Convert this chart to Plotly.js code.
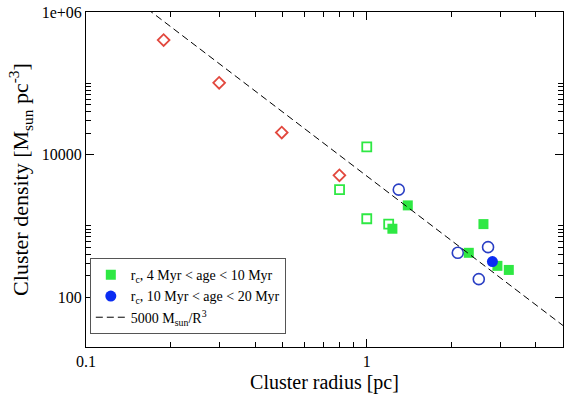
<!DOCTYPE html>
<html><head><meta charset="utf-8">
<script src="https://cdn.plot.ly/plotly-3.0.1.min.js"></script>
<style>html,body{margin:0;padding:0;background:#fff;}#plot{width:570px;height:395px;}</style>
</head><body><div id="plot"></div>
<script>
// Red open diamonds
const diamondX = [0.189, 0.298, 0.498, 0.799];
const diamondY = [404000, 101500, 20400, 5120];
// Green open squares
const openSqX = [1.0, 0.80, 1.0, 1.197];
const openSqY = [12800, 3220, 1259, 1059];
// Green filled squares: r_c, 4 Myr < age < 10 Myr
const fillSqX = [1.40, 1.234, 2.604, 2.309, 2.92, 3.206];
const fillSqY = [1938, 912, 1059, 419, 275, 241];
// Blue open circles
const openCirX = [1.30, 2.11, 2.704, 2.506];
const openCirY = [3220, 419, 503, 179];
// Blue filled circle: r_c, 10 Myr < age < 20 Myr
const fillCirX = [2.803];
const fillCirY = [316];
// 5000 Msun / R^3 reference line
const lineX = [0.1, 5];
const lineY = [5000000, 40];

const yTickVals = [100, 10000, 1000000];
const yTickText = ['100', '10000', '1e+06'];
const xTickVals = [0.1, 1];
const xTickText = ['0.1', '1'];
const yMinor = [200,300,400,500,600,700,800,900,1000,20000,30000,40000,50000,60000,70000,80000,90000,100000];
const xMinor = [0.2,0.3,0.4,0.5,0.6,0.7,0.8,0.9,2,3,4];

const serif = 'Liberation Serif, Times New Roman, serif';
const green = '#2ee843';
const red = '#e2483e';
const blueOpen = '#2a3fc4';
const blueFill = '#0a2cf2';

const traces = [
  {x: diamondX, y: diamondY, type: 'scatter', mode: 'markers', showlegend: false,
   marker: {symbol: 'diamond-open', size: 9, color: red, line: {width: 1.8, color: red}}},
  {x: openSqX, y: openSqY, type: 'scatter', mode: 'markers', showlegend: false,
   marker: {symbol: 'square-open', size: 9, color: green, line: {width: 1.8, color: green}}},
  {x: openCirX, y: openCirY, type: 'scatter', mode: 'markers', showlegend: false,
   marker: {symbol: 'circle-open', size: 11, color: blueOpen, line: {width: 1.6, color: blueOpen}}},
  {x: fillSqX, y: fillSqY, type: 'scatter', mode: 'markers',
   name: 'r<sub>c</sub>, 4 Myr &lt; age &lt; 10 Myr',
   marker: {symbol: 'square', size: 10, color: green}},
  {x: fillCirX, y: fillCirY, type: 'scatter', mode: 'markers',
   name: 'r<sub>c</sub>, 10 Myr &lt; age &lt; 20 Myr',
   marker: {symbol: 'circle', size: 11, color: blueFill}},
  {x: lineX, y: lineY, type: 'scatter', mode: 'lines',
   name: '5000 M<sub>sun</sub>/R<sup>3</sup>',
   line: {color: '#000', width: 1, dash: '7px,4px'}}
];

const layout = {
  width: 570, height: 395,
  margin: {l: 86, r: 7, t: 12, b: 48},
  paper_bgcolor: '#fff', plot_bgcolor: '#fff',
  showlegend: true,
  font: {family: serif, color: '#000', size: 16},
  xaxis: {
    type: 'log', range: [-1, Math.log10(5)],
    tickmode: 'array', tickvals: xTickVals, ticktext: xTickText,
    ticks: 'inside', ticklen: 8, tickwidth: 1, tickcolor: '#000',
    minor: {tickmode: 'array', tickvals: xMinor, ticks: 'inside', ticklen: 5, tickwidth: 1, tickcolor: '#000'},
    showline: true, linecolor: '#000', linewidth: 1, mirror: 'ticks',
    showgrid: false, zeroline: false,
    tickfont: {family: serif, size: 16},
    title: {text: 'Cluster radius [pc]', font: {family: serif, size: 20}, standoff: 5}
  },
  yaxis: {
    type: 'log', range: [Math.log10(20), 6],
    tickmode: 'array', tickvals: yTickVals, ticktext: yTickText,
    ticks: 'inside', ticklen: 8, tickwidth: 1, tickcolor: '#000',
    minor: {tickmode: 'array', tickvals: yMinor, ticks: 'inside', ticklen: 5, tickwidth: 1, tickcolor: '#000'},
    showline: true, linecolor: '#000', linewidth: 1, mirror: 'ticks',
    showgrid: false, zeroline: false,
    tickfont: {family: serif, size: 16},
    title: {text: 'Cluster density [M<sub>sun</sub> pc<sup>-3</sup>]', font: {family: serif, size: 22}, standoff: 6}
  },
  legend: {
    x: 0.008, y: 0.265, xanchor: 'left', yanchor: 'top',
    bgcolor: '#fff', bordercolor: '#555', borderwidth: 1,
    font: {family: serif, size: 14, color: '#000'}
  }
};

Plotly.newPlot('plot', traces, layout, {displayModeBar: false, staticPlot: true});
</script>
</body></html>
